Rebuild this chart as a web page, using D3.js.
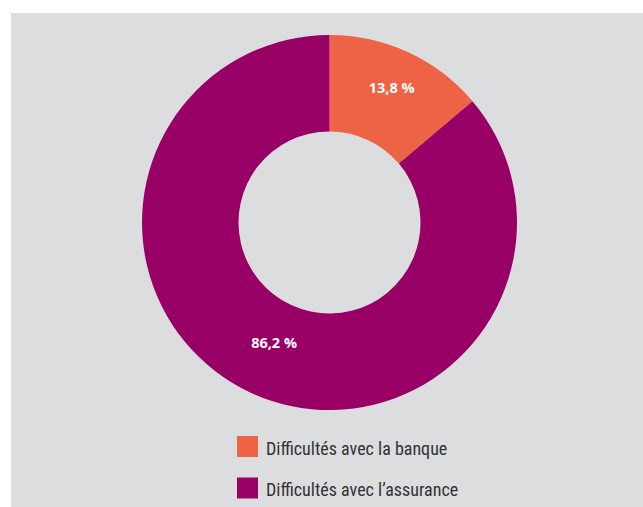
<!DOCTYPE html>
<html>
<head>
<meta charset="utf-8">
<script src="https://cdn.jsdelivr.net/npm/d3@7"></script>
<style>
  html, body { margin: 0; padding: 0; background: #ffffff; }
  svg { display: block; }
</style>
</head>
<body>
<svg id="chart" width="643" height="507"></svg>
<script>
// Répartition des difficultés rencontrées
const categories = ["Difficultés avec la banque", "Difficultés avec l\u2019assurance"];
const values = [13.8, 86.2];
const valueLabels = ["13,8 %", "86,2 %"];
const colors = ["#ee6346", "#990066"];

const width = 643, height = 507;
const cx = 329.5, cy = 222.5;
const outerR = 187.5, innerR = 91;
const labelR = [148, 132];

const svg = d3.select("#chart");

// panneau de fond
svg.append("rect")
  .attr("x", 11).attr("y", 13)
  .attr("width", width - 11).attr("height", height - 13)
  .attr("fill", "#dcdddf");

const pie = d3.pie().sort(null).value(d => d)
  .startAngle(0).endAngle(2 * Math.PI);
const arcs = pie(values);

const arc = d3.arc().innerRadius(innerR).outerRadius(outerR);

const g = svg.append("g").attr("transform", `translate(${cx},${cy})`);

g.selectAll("path.slice")
  .data(arcs)
  .join("path")
  .attr("class", "slice")
  .attr("d", arc)
  .attr("fill", (d, i) => colors[i]);

g.selectAll("text.value")
  .data(arcs)
  .join("text")
  .attr("class", "value")
  .attr("transform", (d, i) => {
    const a = (d.startAngle + d.endAngle) / 2;
    return `translate(${labelR[i] * Math.sin(a)},${-labelR[i] * Math.cos(a)})`;
  })
  .attr("text-anchor", "middle")
  .attr("dy", "0.36em")
  .attr("fill", "#ffffff")
  .attr("font-family", "'Open Sans', 'DejaVu Sans', sans-serif")
  .attr("font-weight", "700")
  .attr("font-size", 14.5)
  .text((d, i) => valueLabels[i]);

// légende
const legend = svg.append("g").attr("transform", "translate(237,436)");
const item = legend.selectAll("g.item")
  .data(categories)
  .join("g")
  .attr("class", "item")
  .attr("transform", (d, i) => `translate(0,${i * 41.5})`);

item.append("rect")
  .attr("width", 21).attr("height", 21)
  .attr("fill", (d, i) => colors[i]);

item.append("text")
  .attr("x", 29)
  .attr("y", 18.5)
  .attr("fill", "#333333")
  .attr("font-family", "'Liberation Sans Narrow', 'Roboto Condensed', 'Liberation Sans', sans-serif")
  .attr("font-size", 18)
  .text(d => d);
</script>
</body>
</html>
